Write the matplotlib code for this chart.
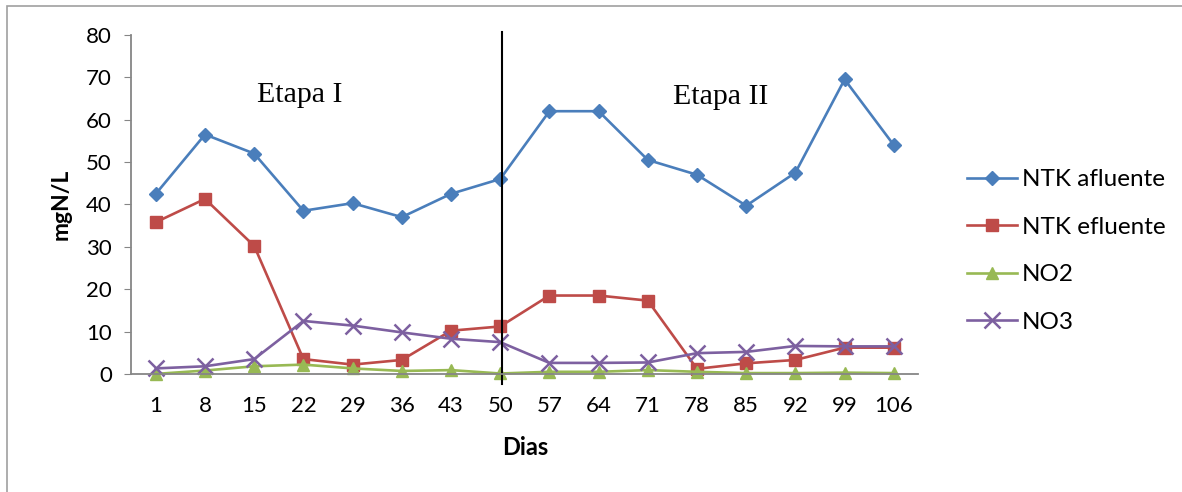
import matplotlib.pyplot as plt
from matplotlib.patches import Rectangle

days = ["1", "8", "15", "22", "29", "36", "43", "50", "57", "64", "71", "78", "85", "92", "99", "106"]
ntk_afluente = [42.5, 56.5, 52.0, 38.5, 40.3, 37.0, 42.5, 46.0, 62.0, 62.0, 50.5, 47.0, 39.7, 47.5, 69.5, 54.0]
ntk_efluente = [35.8, 41.3, 30.2, 3.5, 2.2, 3.3, 10.2, 11.2, 18.5, 18.5, 17.3, 1.2, 2.5, 3.3, 6.2, 6.2]
no2 = [0.0, 0.8, 1.8, 2.2, 1.3, 0.7, 0.9, 0.1, 0.5, 0.5, 0.9, 0.5, 0.2, 0.2, 0.3, 0.2]
no3 = [1.3, 1.8, 3.5, 12.5, 11.4, 9.8, 8.3, 7.5, 2.6, 2.6, 2.7, 4.9, 5.2, 6.6, 6.5, 6.5]

plt.rcParams['font.family'] = ['Lato', 'DejaVu Sans']

fig = plt.figure(figsize=(11.82, 4.92), dpi=100)
ax = fig.add_axes([0.111, 0.240, 0.666, 0.689])

x = list(range(len(days)))
lw = 1.9
ax.plot(x, ntk_afluente, color='#4A7EBB', marker='D', markersize=7, lw=lw, label='NTK afluente', clip_on=False)
ax.plot(x, ntk_efluente, color='#BE4B48', marker='s', markersize=8, lw=lw, label='NTK efluente', clip_on=False)
ax.plot(x, no2, color='#98B954', marker='^', markersize=8.5, lw=lw, label='NO2', clip_on=False)
ax.plot(x, no3, color='#7D60A0', marker='x', markersize=11, mew=1.8, lw=lw, label='NO3', clip_on=False)

# divider between the two stages
ax.plot([7.04, 7.04], [-2.4, 80.7], color='black', lw=1.5, clip_on=False)

ax.text(2.93, 65.8, 'Etapa I', family='Liberation Serif', fontsize=21.5, ha='center', va='center')
ax.text(11.48, 65.4, 'Etapa II', family='Liberation Serif', fontsize=21.5, ha='center', va='center')

ax.set_xlim(-0.5, 15.5)
ax.set_ylim(0, 80)
ax.set_yticks(range(0, 81, 10))
ax.set_xticks(x)
ax.set_xticklabels(days)
ax.tick_params(axis='y', length=5, color='#868686', labelsize=16, pad=9)
ax.tick_params(axis='x', length=0, labelsize=16, pad=16)
for s in ['top', 'right']:
    ax.spines[s].set_visible(False)
for s in ['left', 'bottom']:
    ax.spines[s].set_color('#868686')
    ax.spines[s].set_linewidth(1.3)

ax.set_ylabel('mgN/L', fontsize=16.5, fontweight='bold', labelpad=10)
ax.set_xlabel('Dias', fontsize=17, fontweight='bold', labelpad=14)

fig.legend(loc='center left', bbox_to_anchor=(0.80, 0.49), frameon=False,
           fontsize=17.5, handlelength=2.05, labelspacing=1.09, handletextpad=0.2)

fig.patches.append(Rectangle((0.006, -0.1), 1.2, 1.088, transform=fig.transFigure,
                             fill=False, edgecolor='#A0A0A0', lw=1.2))

fig.savefig('out.png', dpi=100)
